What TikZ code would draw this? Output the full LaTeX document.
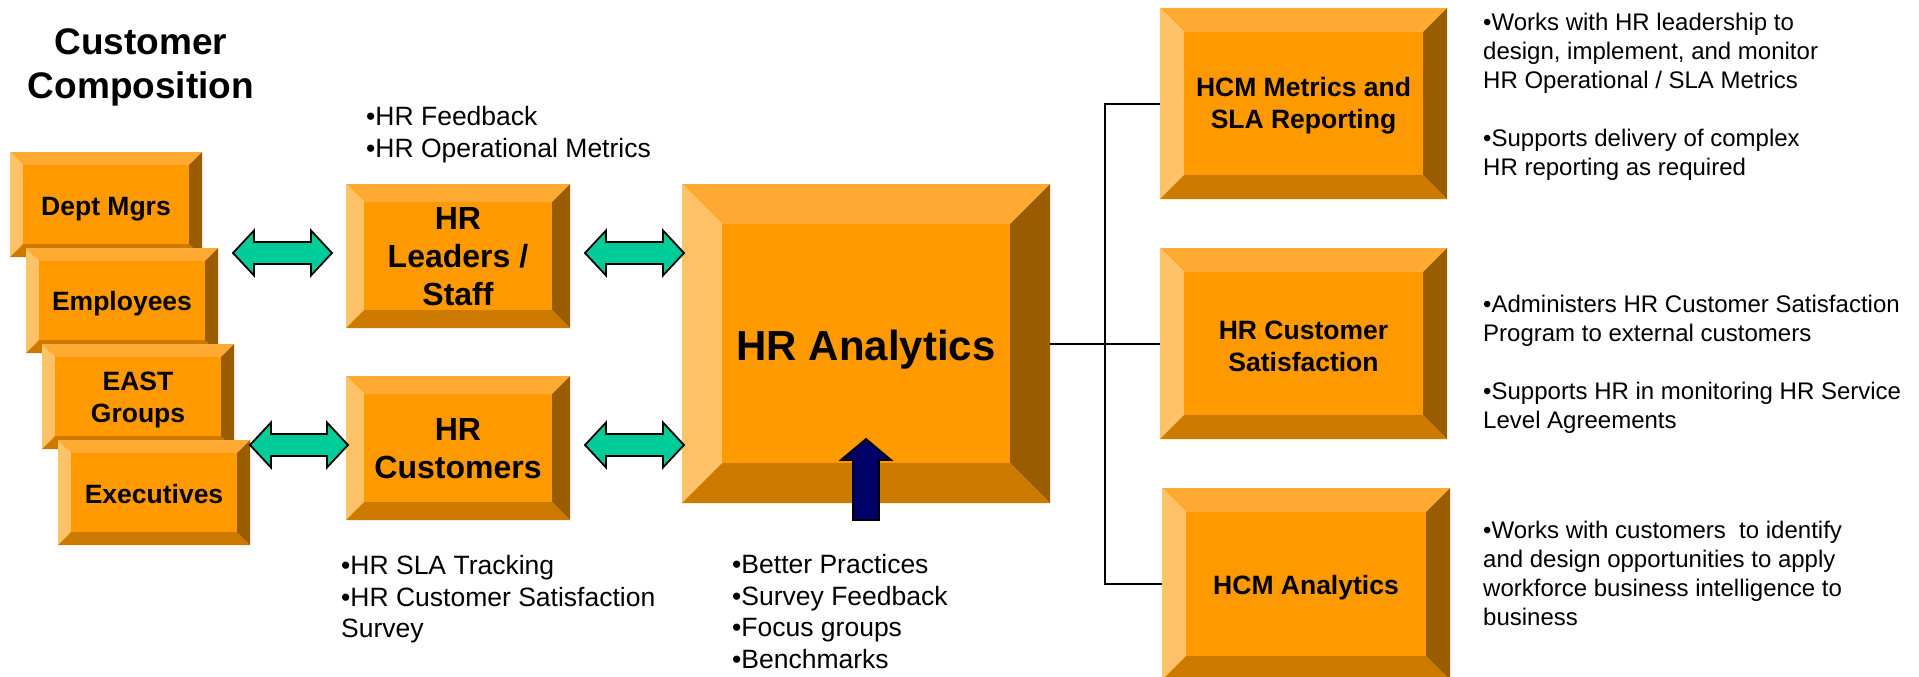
\documentclass[tikz,border=0pt]{standalone}
\usepackage{fontspec}
\setmainfont{Liberation Sans}
\usetikzlibrary{calc}
\definecolor{bvface}{HTML}{FF9900}
\definecolor{bvtop}{HTML}{FFAA33}
\definecolor{bvleft}{HTML}{FFC266}
\definecolor{bvbot}{HTML}{CC7A00}
\definecolor{bvright}{HTML}{995C00}
\definecolor{tealarrow}{HTML}{00CC99}
\definecolor{navyarrow}{HTML}{000066}
\newcommand\bevbox[8]{% name, x1, y1, x2, y2, bevel, text style, text
  \fill[bvtop] (#2,#3) -- (#4,#3) -- (#4-#6,#3+#6) -- (#2+#6,#3+#6) -- cycle;
  \fill[bvleft] (#2,#3) -- (#2+#6,#3+#6) -- (#2+#6,#5-#6) -- (#2,#5) -- cycle;
  \fill[bvbot] (#2,#5) -- (#2+#6,#5-#6) -- (#4-#6,#5-#6) -- (#4,#5) -- cycle;
  \fill[bvright] (#4,#3) -- (#4,#5) -- (#4-#6,#5-#6) -- (#4-#6,#3+#6) -- cycle;
  \fill[bvface] (#2+#6,#3+#6) rectangle (#4-#6,#5-#6);
  \node[inner sep=0pt,minimum width={(#4-#2)*1pt},minimum height={(#5-#3)*1pt}] (#1) at ({(#2+#4)/2},{(#3+#5)/2}) {};
  \node[boxtext,#7] (#1-t) at (#1.center) {#8};
}
\newcommand\dblarrow[3]{% xL, xR, yc
  \draw[arrowline,fill=tealarrow] (#1,#3) -- (#1+21,#3-22.5) -- (#1+21,#3-11) -- (#2-21,#3-11) -- (#2-21,#3-22.5) -- (#2,#3)
    -- (#2-21,#3+22.5) -- (#2-21,#3+11) -- (#1+21,#3+11) -- (#1+21,#3+22.5) -- cycle;
}
\begin{document}
\begin{tikzpicture}[x=1pt,y=-1pt,
  boxtext/.style={inner sep=0pt,align=center,text=black,font=\bfseries\fontsize{26.5}{32}\selectfont},
  smalltxt/.style={yshift=-3.5pt},
  bigtxt/.style={yshift=-1pt,font=\bfseries\fontsize{32}{38}\selectfont},
  hugetxt/.style={yshift=-6pt,font=\bfseries\fontsize{42}{48}\selectfont},
  note/.style={inner sep=0pt,align=left,anchor=north west,font=\fontsize{26.5}{31.7}\selectfont},
  rnote/.style={inner sep=0pt,align=left,anchor=north west,font=\fontsize{24}{29}\selectfont},
  arrowline/.style={draw=black,line width=1.8pt,line join=miter},
  conn/.style={draw=black,line width=2pt}]
\useasboundingbox (0,0) rectangle (1919,677);
\fill[white] (0,0) rectangle (1919,677);

% title
\node[inner sep=0pt,align=center,font=\bfseries\fontsize{37}{44}\selectfont] (title) at (141,67) {Customer\\Composition};

% customer composition stack
\bevbox{dept}{10}{152}{202}{257}{13}{smalltxt,yshift=-1pt}{Dept Mgrs}
\bevbox{emp}{26}{248}{218}{353}{13}{smalltxt}{Employees}
\bevbox{east}{42}{344}{234}{449}{13}{smalltxt}{EAST\\Groups}
\bevbox{exec}{58}{440}{250}{545}{13}{yshift=-1.5pt}{Executives}

% HR leaders / customers
\bevbox{lead}{346}{184}{570}{328}{18}{bigtxt}{HR\\Leaders /\\Staff}
\bevbox{cust}{346}{376}{570}{520}{18}{bigtxt}{HR\\Customers}

% HR analytics
\bevbox{ana}{682}{184}{1050}{503}{40}{hugetxt}{HR Analytics}

% right boxes
\bevbox{met}{1160}{8}{1447}{199}{24}{smalltxt,yshift=1pt}{HCM Metrics and\\SLA Reporting}
\bevbox{sat}{1160}{248}{1447}{439}{24}{smalltxt,yshift=1pt}{HR Customer\\Satisfaction}
\bevbox{hcm}{1162}{488}{1450}{680}{24}{smalltxt}{HCM Analytics}

% teal double arrows
\dblarrow{233}{332}{253}
\dblarrow{585}{684}{253}
\dblarrow{250}{348}{445}
\dblarrow{585}{684}{445}

% navy up arrow
\draw[arrowline,fill=navyarrow] (866,439) -- (891,460) -- (879,460) -- (879,520) -- (853,520) -- (853,460) -- (841,460) -- cycle;

% connectors
\draw[conn] (ana.east) -- ++(55pt,0) coordinate (hub);
\draw[conn] (hub) -- (sat.west);
\draw[conn] (hub) |- (met.west);
\draw[conn] (hub) |- (hcm.west);

% notes
\node[note] (n1) at (366,106) {•HR Feedback\\•HR Operational Metrics};
\node[note] (n2) at (341,555) {•HR SLA Tracking\\•HR Customer Satisfaction\\Survey};
\node[note] (n3) at (732,554) {•Better Practices\\•Survey Feedback\\•Focus groups\\•Benchmarks};
\node[rnote] (r1) at (1483,13) {•Works with HR leadership to\\design, implement, and monitor\\HR Operational / SLA Metrics\\[29pt]•Supports delivery of complex\\HR reporting as required};
\node[rnote] (r2) at (1483,295) {•Administers HR Customer Satisfaction\\Program to external customers\\[29pt]•Supports HR in monitoring HR Service\\Level Agreements};
\node[rnote] (r3) at (1483,521) {•Works with customers~ to identify\\and design opportunities to apply\\workforce business intelligence to\\business};
\end{tikzpicture}
\end{document}
